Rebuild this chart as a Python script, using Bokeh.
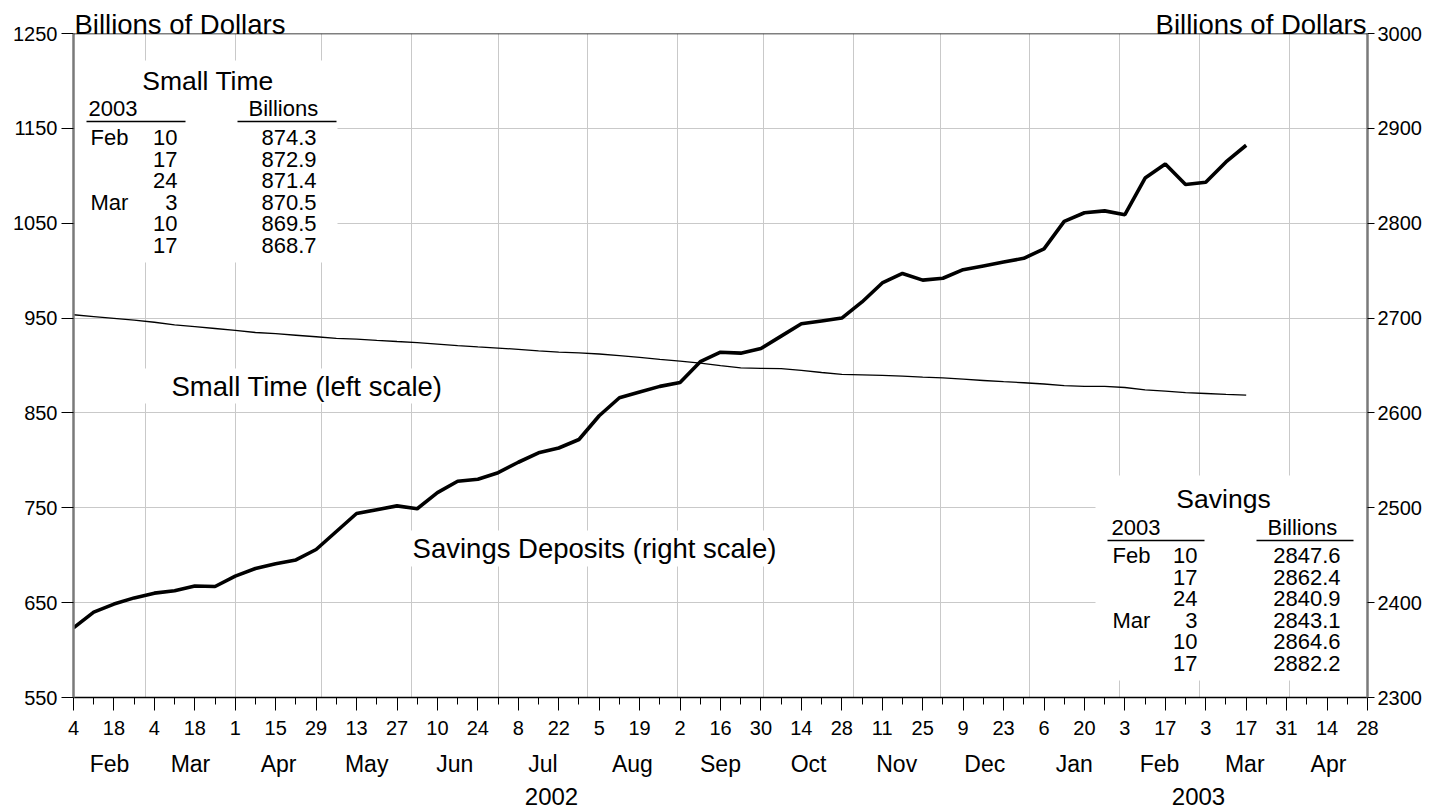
import pandas as pd
from bokeh.plotting import figure
from bokeh.models import (Range1d, LinearAxis, FixedTicker, CustomJSTickFormatter,
                          Label, BoxAnnotation, Span, ColumnDataSource)
from bokeh.embed import file_html
from bokeh.resources import INLINE

FONT = "Liberation Sans"

# ---------------- data ----------------
first_week = "2002-02-04"
last_week = "2003-03-17"
axis_start = "2002-02-04"
axis_end = "2003-04-28"

# Savings deposits, billions of dollars (right scale), weekly
savings_deposits = [
    2373.5, 2390.0, 2398.5, 2405.0, 2410.0, 2412.5, 2417.5, 2417.0, 2428.0, 2436.0,
    2441.0, 2445.0, 2456.0, 2475.0, 2494.0, 2498.0, 2502.0, 2499.0, 2516.0, 2528.0,
    2530.0, 2537.0, 2548.0, 2558.0, 2563.0, 2572.0, 2597.0, 2616.0, 2622.0, 2628.0,
    2632.0, 2654.0, 2664.0, 2663.0, 2668.0, 2681.0, 2694.0, 2697.0, 2700.0, 2717.0,
    2737.0, 2747.0, 2740.0, 2742.0, 2751.0, 2755.0, 2759.0, 2763.0, 2773.0, 2802.0,
    2811.0, 2813.0, 2809.0, 2847.6, 2862.4, 2840.9, 2843.1, 2864.6, 2882.2,
]
# Small time deposits, billions of dollars (left scale), weekly
small_time_deposits = [
    953.5, 951.6, 949.7, 947.9, 945.6, 942.8, 940.9, 939.0, 937.0, 934.8,
    933.5, 931.9, 930.3, 928.6, 927.8, 926.5, 925.3, 924.2, 922.6, 921.0,
    919.6, 918.4, 917.0, 915.4, 914.1, 913.3, 912.1, 910.4, 908.6, 906.5,
    904.6, 902.6, 899.8, 897.4, 897.0, 896.7, 894.9, 892.6, 890.7, 890.2,
    889.6, 888.9, 887.8, 887.0, 885.6, 884.2, 882.9, 881.8, 880.5, 878.8,
    878.0, 878.0, 876.8, 874.3, 872.9, 871.4, 870.5, 869.5, 868.7,
]

left_ticks = [550, 650, 750, 850, 950, 1050, 1150, 1250]
right_ticks = [2300, 2400, 2500, 2600, 2700, 2800, 2900, 3000]
month_names = ["Jan", "Feb", "Mar", "Apr", "May", "Jun",
               "Jul", "Aug", "Sep", "Oct", "Nov", "Dec"]
years = ["2002", "2003"]
unit_title = "Billions of Dollars"

table_year = "2003"
table_months = ["Feb", "", "", "Mar", "", ""]
table_days = ["10", "17", "24", "3", "10", "17"]
small_time_table = ["874.3", "872.9", "871.4", "870.5", "869.5", "868.7"]
savings_table = ["2847.6", "2862.4", "2840.9", "2843.1", "2864.6", "2882.2"]

# ---------------- helpers ----------------
EPOCH = pd.Timestamp("1970-01-01")


def ms(t):
    return float((pd.Timestamp(t) - EPOCH) / pd.Timedelta(milliseconds=1))


X0, X1 = ms(axis_start), ms(axis_end)
week_dates = pd.date_range(first_week, last_week, freq="7D")

tick_dates = pd.date_range(axis_start, axis_end, freq="7D")
minor_ticks = [ms(t) for t in tick_dates]
major_ticks = minor_ticks[::2]
month_starts = [ms(t) for t in pd.date_range("2002-03-01", "2003-04-01", freq="MS")]

month_centers = []
for m in pd.date_range("2002-02-01", "2003-04-01", freq="MS"):
    a = max(ms(m), X0)
    b = min(ms(m + pd.offsets.MonthBegin(1)), X1)
    month_centers.append((a + b) / 2)

year_centers = []
for y in years:
    a = max(ms(y + "-01-01"), X0)
    b = min(ms(str(int(y) + 1) + "-01-01"), X1)
    year_centers.append((a + b) / 2)

# pixel geometry of the frame (used only for placing annotations)
W, H = 1429, 808
FL, FR, FT, FB = 73.0, 1367.0, 33.0, 697.0


def dx(px):
    return X0 + (px - FL) / (FR - FL) * (X1 - X0)


def dy(py):
    return 1250 - (py - FT) / (FB - FT) * 700


# ---------------- figure ----------------
p = figure(width=W, height=H, x_axis_type="datetime",
           x_range=Range1d(X0, X1), y_range=Range1d(550, 1250),
           output_backend="svg", toolbar_location=None,
           min_border_left=int(FL), min_border_right=int(W - FR),
           min_border_top=int(FT), min_border_bottom=int(H - FB))
p.extra_y_ranges = {"right": Range1d(2300, 3000)}
p.outline_line_color = None
p.background_fill_color = "white"
p.border_fill_color = "white"

src = ColumnDataSource(dict(date=week_dates, savings=savings_deposits,
                            small=small_time_deposits))
p.line("date", "small", source=src, line_color="black", line_width=1.3)
p.line("date", "savings", source=src, y_range_name="right",
       line_color="black", line_width=3.6)

# grids
GRID = "#c9c9c9"
p.ygrid.ticker = FixedTicker(ticks=left_ticks)
p.xgrid.ticker = FixedTicker(ticks=month_starts)
p.ygrid.grid_line_color = GRID
p.xgrid.grid_line_color = GRID
p.ygrid.grid_line_width = 1
p.xgrid.grid_line_width = 1


def style_axis(ax, size="20px"):
    ax.major_label_text_font = FONT
    ax.major_label_text_font_size = size
    ax.major_label_text_color = "black"
    ax.major_tick_line_color = "black"
    ax.minor_tick_line_color = "black"
    ax.major_tick_in = 0
    ax.minor_tick_in = 0


def text_axis(ticks, js, size, standoff):
    ax = LinearAxis(ticker=FixedTicker(ticks=ticks),
                    formatter=CustomJSTickFormatter(code=js))
    style_axis(ax, size)
    ax.axis_line_color = None
    ax.major_tick_line_color = None
    ax.minor_tick_line_color = None
    ax.major_tick_out = 0
    ax.major_label_standoff = standoff
    return ax


# left axis
ya = p.yaxis[0]
ya.ticker = FixedTicker(ticks=left_ticks)
style_axis(ya)
ya.major_tick_out = 12
ya.major_label_standoff = 4
ya.minor_tick_line_color = None
ya.axis_line_color = "#7a7a7a"
ya.axis_line_width = 2.5

# right axis
ra = LinearAxis(y_range_name="right", ticker=FixedTicker(ticks=right_ticks))
style_axis(ra)
ra.major_tick_out = 7
ra.major_label_standoff = 3
ra.minor_tick_line_color = None
ra.axis_line_color = "#7a7a7a"
ra.axis_line_width = 2.5
p.add_layout(ra, "right")

# bottom day axis
xa = p.xaxis[0]
xa.ticker = FixedTicker(ticks=major_ticks, minor_ticks=minor_ticks)
xa.formatter = CustomJSTickFormatter(code="return String(new Date(tick).getUTCDate());")
style_axis(xa)
xa.major_tick_out = 13
xa.minor_tick_out = 7
xa.major_label_standoff = 10
xa.axis_line_color = "black"
xa.axis_line_width = 1.5

# month axis
mnames_js = "[" + ",".join("'%s'" % m for m in month_names) + "]"
p.add_layout(text_axis(month_centers,
                       "return %s[new Date(tick).getUTCMonth()];" % mnames_js,
                       "23px", 13), "below")
# year axis
year_axis = text_axis(year_centers,
                      "return String(new Date(tick).getUTCFullYear());",
                      "24px", 8)
year_axis.major_label_text_line_height = 0.7
p.add_layout(year_axis, "below")

# "Billions of Dollars" headers (an axis above the frame with two labels)
title_w = 7.668 * 27.5
p.add_layout(text_axis([dx(74 + title_w / 2), dx(1366 - title_w / 2)],
                       "return '%s';" % unit_title, "27.5px", -6), "above")

# top frame line
p.add_layout(Span(location=1250, dimension="width", line_color="black", line_width=1.5))


def white_box(x0, x1, y0, y1):
    p.add_layout(BoxAnnotation(left=dx(x0), right=dx(x1), top=dy(y0), bottom=dy(y1),
                               fill_color="white", fill_alpha=1.0, line_color=None))


def rule(x0, x1, y):
    p.add_layout(BoxAnnotation(left=dx(x0), right=dx(x1), top=dy(y - 0.7), bottom=dy(y + 0.7),
                               fill_color="black", fill_alpha=1.0, line_color=None))


def txt(px, py, s, align="left", size="22px"):
    p.add_layout(Label(x=dx(px), y=dy(py), text=s, text_align=align,
                       text_baseline="middle", text_font=FONT,
                       text_font_size=size, text_color="black"))


# series labels
white_box(140, 470, 368, 403)
txt(306.5, 386, "Small Time (left scale)", "center", "27.5px")
white_box(385, 805, 530, 566)
txt(594, 548, "Savings Deposits (right scale)", "center", "27.5px")


def table(title, vals, title_cx, title_y, x_year, x_bill, ul1, ul2, x_mon, x_day, x_val,
          head_y, ul_y, row0, box):
    white_box(*box)
    txt(title_cx, title_y, title, "center", "26.5px")
    txt(x_year, head_y, table_year, "left")
    txt(x_bill, head_y, "Billions", "left")
    rule(ul1[0], ul1[1], ul_y)
    rule(ul2[0], ul2[1], ul_y)
    for i, (mo, d, v) in enumerate(zip(table_months, table_days, vals)):
        yy = row0 + 21.6 * i
        if mo:
            txt(x_mon, yy, mo, "left")
        txt(x_day, yy, d, "right")
        txt(x_val, yy, v, "right")


table("Small Time", small_time_table, 207.5, 80, 88, 248, (86, 185), (237, 336),
      90, 177, 316, 108, 121, 137, (74.5, 337, 60, 262))
table("Savings", savings_table, 1223, 498, 1111, 1267, (1107, 1204), (1256, 1353),
      1112, 1197, 1340, 527, 540, 555, (1095, FR - 1.5, 475, 680))

open("out.html", "w").write(file_html(p, INLINE))
